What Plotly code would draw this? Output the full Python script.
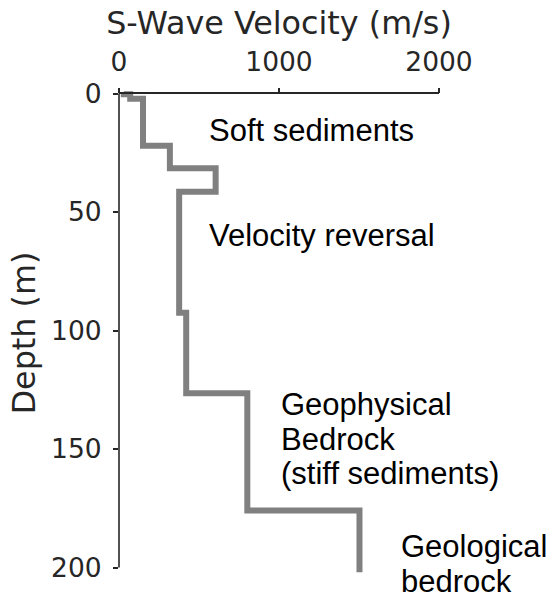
import plotly.graph_objects as go

# ---- data ----
layer_top_depth = [0, 0.3, 2.2, 22, 31.5, 41.5, 92.5, 126.5, 176]
layer_velocity = [30, 70, 150, 318, 604, 376, 420, 802, 1503]
profile_bottom_depth = 202

x_ticks = [0, 1000, 2000]
y_ticks = [0, 50, 100, 150, 200]

label_lines = [["Soft sediments"], ["Velocity reversal"],
               ["Geophysical", "Bedrock", "(stiff sediments)"],
               ["Geological", "bedrock"]]
label_velocity = [550, 550, 1000, 1750]
label_depth = [15.6, 60, 131.4, 191.2]

# ---- build step profile ----
xs, ys = [], []
n = len(layer_velocity)
for i, v in enumerate(layer_velocity):
    top = layer_top_depth[i]
    bot = layer_top_depth[i + 1] if i + 1 < n else profile_bottom_depth
    xs += [v, v]
    ys += [top, bot]

W, H = 554, 596
ML, MR, MT, MB = 119, 115, 88, 18
x_range = [0, 2000]
y_lo, y_hi = -2.32, 204.43
INK = "#262626"
TICKFONT = dict(family="DejaVu Sans", size=26.5, color=INK)
LABELFONT = dict(family="DejaVu Sans", size=31.8, color=INK)


def yfrac(d):
    return (y_hi - d) / (y_hi - y_lo)


fig = go.Figure()
fig.add_trace(go.Scatter(x=xs, y=ys, mode="lines",
                         line=dict(color="#808080", width=6),
                         hoverinfo="skip", showlegend=False))

fig.update_layout(
    template="none",
    width=W, height=H,
    margin=dict(l=ML, r=MR, t=MT, b=MB, pad=0),
    paper_bgcolor="white", plot_bgcolor="white",
    showlegend=False,
    xaxis=dict(range=x_range, side="top", anchor="free", position=yfrac(0),
               automargin=False,
               showline=True, linecolor=INK, linewidth=1.6,
               ticks="outside", ticklen=5, tickwidth=1.6, tickcolor=INK,
               tickvals=x_ticks, ticktext=[str(t) for t in x_ticks],
               tickfont=TICKFONT, showgrid=False, zeroline=False,
               ticklabelstandoff=6,
               title=dict(text="S-Wave Velocity (m/s)", font=LABELFONT, standoff=1)),
    yaxis=dict(range=[y_hi, y_lo], anchor="x",
               automargin=False,
               showline=False,
               ticks="outside", ticklen=5, tickwidth=1.6, tickcolor=INK,
               tickvals=y_ticks, ticktext=[str(t) for t in y_ticks],
               tickfont=TICKFONT, showgrid=False, zeroline=False,
               ticklabelstandoff=6,
               title=dict(text="Depth (m)", font=LABELFONT, standoff=5)),
)

# y spine limited to tick range
fig.add_shape(type="line", xref="paper", yref="paper",
              x0=0, x1=0, y0=yfrac(y_ticks[-1]), y1=yfrac(y_ticks[0]),
              line=dict(color=INK, width=1.6))

for lines, v, d in zip(label_lines, label_velocity, label_depth):
    for j, txt in enumerate(lines):
        fig.add_annotation(x=v, y=d, xref="x", yref="y", text=txt,
                           showarrow=False, xanchor="left", yanchor="middle",
                           yshift=-34.5 * j,
                           font=dict(family="Liberation Sans", size=31, color="black"))

fig.write_html("out.html", config={"displayModeBar": False},
               post_script="document.body.style.margin='0';")
